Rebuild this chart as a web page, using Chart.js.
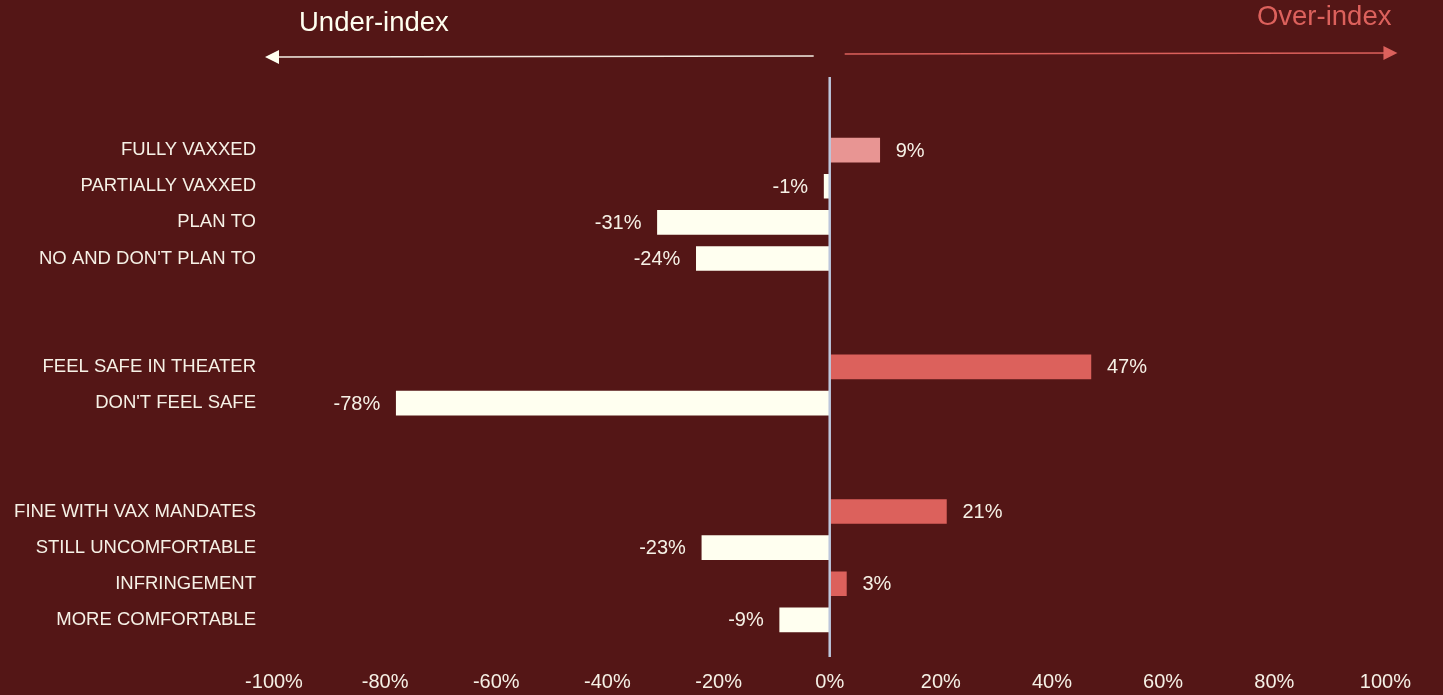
<!DOCTYPE html>
<html>
<head>
<meta charset="utf-8">
<script src="https://cdn.jsdelivr.net/npm/chart.js@4.4.1/dist/chart.umd.min.js"></script>
<style>
  html, body { margin: 0; padding: 0; background: #541616; }
  #wrap { width: 1443px; height: 695px; position: relative; }
</style>
</head>
<body>
<div id="wrap"><canvas id="c" width="1443" height="695"></canvas></div>
<script>
// ---- data ----
const categories = [
  "FULLY VAXXED", "PARTIALLY VAXXED", "PLAN TO", "NO AND DON'T PLAN TO",
  "", "",
  "FEEL SAFE IN THEATER", "DON'T FEEL SAFE",
  "", "",
  "FINE WITH VAX MANDATES", "STILL UNCOMFORTABLE", "INFRINGEMENT", "MORE COMFORTABLE"
];
const indexValues = [9, -1, -31, -24, null, null, 47, -78, null, null, 21, -23, 3, -9];
const xTickMin = -100;
const xTickMax = 100;
const xTickStep = 20;
const headerLeft = "Under-index";
const headerRight = "Over-index";

// ---- styles ----
const BG = '#541616';
const CREAM = '#fffff0';
const RED = '#dc615c';
const PINK = '#e89593';
const TEXT = '#f6f1e6';
const FONT = "'Liberation Sans', Arial, sans-serif";

const barColors = indexValues.map((v, i) => {
  if (v === null) return 'rgba(0,0,0,0)';
  if (i === 0) return PINK;
  return v >= 0 ? RED : CREAM;
});

const bgPlugin = {
  id: 'bg',
  beforeDraw(chart) {
    const ctx = chart.ctx;
    ctx.save();
    ctx.fillStyle = BG;
    ctx.fillRect(0, 0, chart.width, chart.height);
    ctx.restore();
  }
};

const decorPlugin = {
  id: 'decor',
  afterDatasetsDraw(chart) {
    const ctx = chart.ctx;
    const x = chart.scales.x;
    const area = chart.chartArea;
    const x0 = x.getPixelForValue(0);
    ctx.save();
    // zero line
    ctx.strokeStyle = '#bcc6dc';
    ctx.lineWidth = 2.5;
    ctx.beginPath();
    ctx.moveTo(x0, 77);
    ctx.lineTo(x0, area.bottom + 19);
    ctx.stroke();

    // left arrow (under-index)
    const ly = 57;
    const lTip = area.left - 9;
    ctx.strokeStyle = '#f4eee4';
    ctx.lineWidth = 1.5;
    ctx.beginPath();
    ctx.moveTo(x0 - 16, ly - 1);
    ctx.lineTo(lTip + 10, ly);
    ctx.stroke();
    ctx.fillStyle = '#fffff0';
    ctx.beginPath();
    ctx.moveTo(lTip, ly);
    ctx.lineTo(lTip + 14, ly - 7);
    ctx.lineTo(lTip + 14, ly + 7);
    ctx.closePath();
    ctx.fill();

    // right arrow (over-index)
    const ry = 53;
    const rTip = area.right + 12;
    ctx.strokeStyle = RED;
    ctx.lineWidth = 1.5;
    ctx.beginPath();
    ctx.moveTo(x0 + 15, ry + 1);
    ctx.lineTo(rTip - 10, ry);
    ctx.stroke();
    ctx.fillStyle = RED;
    ctx.beginPath();
    ctx.moveTo(rTip, ry);
    ctx.lineTo(rTip - 14, ry - 7);
    ctx.lineTo(rTip - 14, ry + 7);
    ctx.closePath();
    ctx.fill();

    // header texts
    ctx.font = "27.5px " + FONT;
    ctx.textBaseline = 'middle';
    ctx.fillStyle = '#fffff0';
    ctx.textAlign = 'left';
    ctx.fillText(headerLeft, area.left + 25, 23);
    ctx.fillStyle = RED;
    ctx.textAlign = 'right';
    ctx.fillText(headerRight, area.right + 6, 17);

    // data labels
    const meta = chart.getDatasetMeta(0);
    ctx.font = "20px " + FONT;
    ctx.fillStyle = TEXT;
    meta.data.forEach((bar, i) => {
      const v = indexValues[i];
      if (v === null) return;
      const label = v + '%';
      if (v >= 0) {
        ctx.textAlign = 'left';
        ctx.fillText(label, bar.x + 16, bar.y + 1);
      } else {
        ctx.textAlign = 'right';
        ctx.fillText(label, bar.x - 16, bar.y + 1);
      }
    });
    ctx.restore();
  }
};

new Chart(document.getElementById('c'), {
  type: 'bar',
  data: {
    labels: categories,
    datasets: [{
      data: indexValues,
      backgroundColor: barColors,
      borderWidth: 0,
      barThickness: 24,
      base: 0
    }]
  },
  options: {
    indexAxis: 'y',
    responsive: false,
    animation: false,
    devicePixelRatio: 1,
    layout: { padding: { top: 132, right: 55, left: 0, bottom: 0 } },
    plugins: {
      legend: { display: false },
      tooltip: { enabled: false }
    },
    scales: {
      x: {
        min: xTickMin,
        max: xTickMax,
        grid: { display: false, drawTicks: false },
        border: { display: false },
        ticks: {
          stepSize: xTickStep,
          color: TEXT,
          font: { family: FONT, size: 20 },
          padding: 32,
          maxRotation: 0,
          callback: (v) => v + '%'
        },
        afterFit(scale) { scale.height = 57; }
      },
      y: {
        grid: { display: false, drawTicks: false },
        border: { display: false },
        ticks: {
          color: TEXT,
          font: { family: FONT, size: 18.5 },
          padding: 18,
          autoSkip: false
        },
        afterFit(scale) { scale.width = 274; }
      }
    }
  },
  plugins: [bgPlugin, decorPlugin]
});
</script>
</body>
</html>
